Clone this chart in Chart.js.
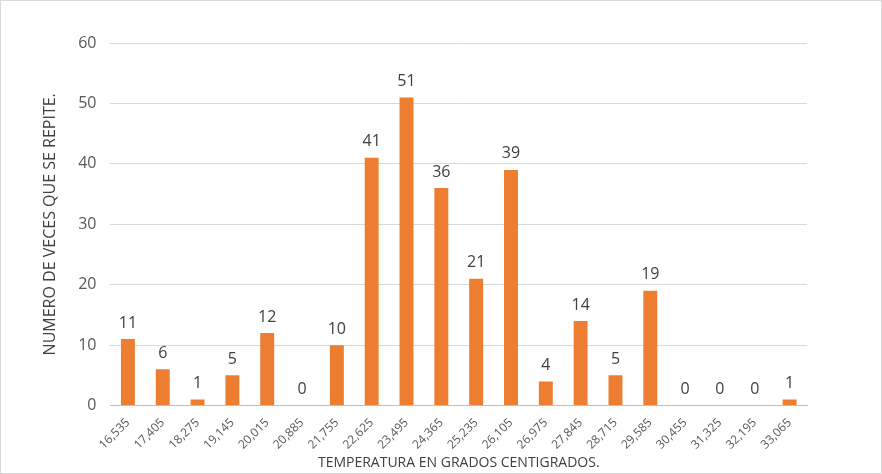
<!DOCTYPE html>
<html>
<head>
<meta charset="utf-8">
<script src="https://cdn.jsdelivr.net/npm/chart.js@4"></script>
<style>
  html, body { margin: 0; padding: 0; background: #fff; }
  #wrap { width: 880px; height: 472px; border: 1px solid #d9d9d9; }
</style>
</head>
<body>
<div id="wrap"><canvas id="chart" width="880" height="472"></canvas></div>
<script>
const categories = ['16,535','17,405','18,275','19,145','20,015','20,885','21,755','22,625','23,495','24,365','25,235','26,105','26,975','27,845','28,715','29,585','30,455','31,325','32,195','33,065'];
const counts = [11, 6, 1, 5, 12, 0, 10, 41, 51, 36, 21, 39, 4, 14, 5, 19, 0, 0, 0, 1];
const yTicks = [0, 10, 20, 30, 40, 50, 60];

// draw the value above each bar
const valueLabels = {
  id: 'valueLabels',
  afterDatasetsDraw(chart) {
    const ctx = chart.ctx;
    const meta = chart.getDatasetMeta(0);
    ctx.save();
    ctx.font = '16px "Open Sans", sans-serif';
    ctx.fillStyle = '#404040';
    ctx.textAlign = 'center';
    ctx.textBaseline = 'bottom';
    meta.data.forEach((bar, i) => {
      ctx.fillText(counts[i], bar.x, bar.y - 8);
    });
    ctx.restore();
  }
};

new Chart(document.getElementById('chart').getContext('2d'), {
  type: 'bar',
  data: {
    labels: categories,
    datasets: [{
      data: counts,
      backgroundColor: '#ed7d31',
      barPercentage: 0.4,
      categoryPercentage: 1
    }]
  },
  options: {
    responsive: false,
    animation: false,
    layout: { padding: { top: 42, right: 74, left: 36, bottom: 2 } },
    plugins: { legend: { display: false }, tooltip: { enabled: false } },
    scales: {
      y: {
        min: 0, max: 60,
        afterBuildTicks(axis) { axis.ticks = yTicks.map(v => ({ value: v })); },
        grid: { color: '#d9d9d9', drawTicks: false },
        border: { display: false },
        ticks: { color: '#595959', padding: 14, font: { size: 16, family: '"Open Sans", sans-serif' } },
        title: { display: true, text: 'NUMERO DE VECES QUE SE REPITE.', color: '#404040', font: { size: 16, family: '"Open Sans", sans-serif' } }
      },
      x: {
        grid: { display: false },
        border: { color: '#bfbfbf' },
        ticks: { color: '#595959', padding: 2, maxRotation: 45, minRotation: 45, font: { size: 12, family: '"Open Sans", sans-serif' } },
        title: { display: true, text: 'TEMPERATURA EN GRADOS CENTIGRADOS.', color: '#404040', padding: 0, font: { size: 14, family: '"Open Sans", sans-serif' } }
      }
    }
  },
  plugins: [valueLabels]
});
</script>
</body>
</html>
